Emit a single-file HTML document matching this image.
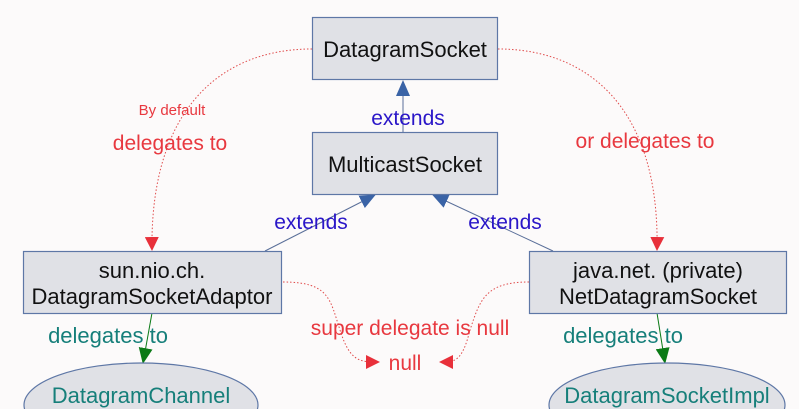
<!DOCTYPE html>
<html><head><style>
html,body{margin:0;padding:0;background:#fcfafa;overflow:hidden;width:799px;height:409px;}
svg{display:block;font-family:"Liberation Sans",sans-serif;}
</style></head><body>
<svg width="799" height="409" viewBox="0 0 799 409" xmlns="http://www.w3.org/2000/svg">
<defs>
<marker id="ar" markerWidth="14" markerHeight="14" refX="13" refY="7" orient="auto" markerUnits="userSpaceOnUse"><path d="M0,0 L14,7 L0,14 z" fill="#e8303a"/></marker>
<marker id="ab" markerWidth="16" markerHeight="14" refX="15" refY="7" orient="auto" markerUnits="userSpaceOnUse"><path d="M0,0 L16,7 L0,14 z" fill="#3a63a6"/></marker>
<marker id="ag" markerWidth="16" markerHeight="14" refX="15" refY="7" orient="auto" markerUnits="userSpaceOnUse"><path d="M0,0 L16,7 L0,14 z" fill="#0b7a16"/></marker>
</defs>
<g fill="none" stroke="#e04a4a" stroke-width="1" stroke-dasharray="1.5,2">
<path d="M312,49 C220,49 150,110 152,250" marker-end="url(#ar)"/>
<path d="M498,49 C590,49 660,110 657,250" marker-end="url(#ar)"/>
<path d="M283,282 C330,282 330,300 340,330 C350,362 360,362 379,362" marker-end="url(#ar)"/>
<path d="M529,282 C485,282 480,300 470,330 C462,362 455,362 440,362" marker-end="url(#ar)"/>
</g>
<g stroke="#5a6f99" stroke-width="1" fill="none">
<line x1="403" y1="132" x2="403" y2="81" marker-end="url(#ab)"/>
<line x1="265" y1="251" x2="375" y2="195" marker-end="url(#ab)"/>
<line x1="553" y1="251" x2="433" y2="195" marker-end="url(#ab)"/>
</g>
<g stroke="#0b7a16" stroke-width="1">
<line x1="152" y1="313" x2="143" y2="363" marker-end="url(#ag)"/>
<line x1="657" y1="313" x2="665" y2="363" marker-end="url(#ag)"/>
</g>
<g fill="#e0e1e6" stroke="#5e77a6" stroke-width="1.2">
<rect x="312.5" y="17.5" width="185" height="62"/>
<rect x="312.5" y="132.5" width="185" height="62"/>
<rect x="23.5" y="251.5" width="258" height="62"/>
<rect x="529.5" y="251.5" width="257" height="62"/>
<ellipse cx="141" cy="405" rx="117" ry="42"/>
<ellipse cx="667" cy="405" rx="118" ry="42"/>
</g>
<g font-size="22" fill="#111" text-anchor="middle">
<text x="405" y="57">DatagramSocket</text>
<text x="405" y="172">MulticastSocket</text>
<text x="152" y="278">sun.nio.ch.</text>
<text x="152" y="304">DatagramSocketAdaptor</text>
<text x="658" y="278">java.net. (private)</text>
<text x="658" y="304">NetDatagramSocket</text>
</g>
<g font-size="22" fill="#167f7a" text-anchor="middle">
<text x="141" y="403">DatagramChannel</text>
<text x="667" y="403">DatagramSocketImpl</text>
<text x="108" y="343">delegates to</text>
<text x="623" y="343">delegates to</text>
</g>
<g font-size="21" fill="#2a16c8" text-anchor="middle">
<text x="408" y="125">extends</text>
<text x="311" y="229">extends</text>
<text x="505" y="229">extends</text>
</g>
<g fill="#e8383f" text-anchor="middle">
<text x="172" y="115" font-size="15">By default</text>
<text x="170" y="150" font-size="21">delegates to</text>
<text x="645" y="148" font-size="21">or delegates to</text>
<text x="410" y="335" font-size="21">super delegate is null</text>
<text x="405" y="370" font-size="21">null</text>
</g>
</svg>
</body></html>
